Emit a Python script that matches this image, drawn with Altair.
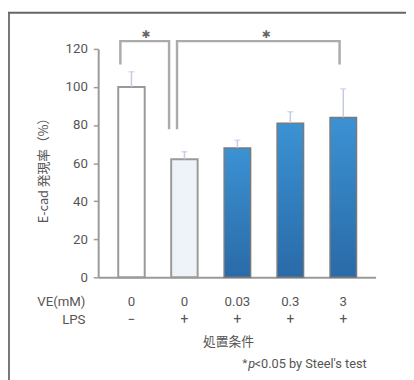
import altair as alt
import pandas as pd

# ---- data ----
groups = [0, 1, 2, 3, 4]
ve_labels = ["0", "0", "0.03", "0.3", "3"]
lps_labels = ["\u2212", "+", "+", "+", "+"]
kinds = ["white", "pale", "blue", "blue", "blue"]
means = [100, 62, 68, 81, 84]
err_top = [108, 66, 72, 87, 99]
y_ticks = [0, 20, 40, 60, 80, 100, 120]

# significance brackets (x in group-index units, y in value units)
br_x = [-0.21, -0.21, 0.71, 0.71, 0.86, 0.86, 3.93, 3.93]
br_y = [111.8, 124.1, 124.1, 77.8, 77.8, 124.1, 124.1, 111.8]
br_id = [1, 1, 1, 1, 2, 2, 2, 2]
br_ord = [0, 1, 2, 3, 0, 1, 2, 3]
star_x = [0.27, 2.54]
star_y = [127.5, 127.5]

df = pd.DataFrame({"g": groups, "ve": ve_labels, "lps": lps_labels,
                   "kind": kinds, "m": means, "e": err_top})
br = pd.DataFrame({"x": br_x, "y": br_y, "id": br_id, "o": br_ord})
st = pd.DataFrame({"x": star_x, "y": star_y, "t": ["\u2731", "\u2731"]})

W, H = 283, 233
xs = alt.Scale(domain=[-0.536, 4.518], nice=False, zero=False)
ys = alt.Scale(domain=[0, 120], nice=False)
XAX = alt.Axis(labels=False, ticks=False, grid=False, title=None)
YAX = alt.Axis(values=y_ticks, labelOverlap=False, grid=False, title=None)


def xq(f):
    return alt.X(f, scale=xs, axis=XAX, title=None)


def yq(f):
    return alt.Y(f, scale=ys, axis=YAX, title=None)


base = alt.Chart(df)

bars_white = base.transform_filter("datum.kind=='white'").mark_bar(
    size=27, fill="white", stroke="#999999", strokeWidth=2).encode(
    x=xq("g:Q"), y=yq("m:Q"))
bars_pale = base.transform_filter("datum.kind=='pale'").mark_bar(
    size=27, fill="#eef3fa", stroke="#999999", strokeWidth=2).encode(
    x=xq("g:Q"), y=yq("m:Q"))
grad = alt.Gradient(gradient="linear", x1=0, y1=0, x2=0, y2=1,
                    stops=[alt.GradientStop(color="#3b92d3", offset=0),
                           alt.GradientStop(color="#2a6aa8", offset=1)])
bars_blue = base.transform_filter("datum.kind=='blue'").mark_bar(
    size=27, color=grad, stroke="#7a7a7a", strokeWidth=1.5).encode(
    x=xq("g:Q"), y=yq("m:Q"))

err = base.mark_rule(color="#c3cbe3", strokeWidth=1.5).encode(
    x=xq("g:Q"), y=yq("m:Q"), y2="e:Q")
cap = base.mark_tick(orient="horizontal", size=6, thickness=1.5,
                     color="#c3cbe3").encode(x=xq("g:Q"), y=yq("e:Q"))

brackets = alt.Chart(br).mark_line(color="#ababab", strokeWidth=2.5,
                                   strokeJoin="miter").encode(
    x=xq("x:Q"), y=yq("y:Q"), detail="id:N", order="o:Q")
stars = alt.Chart(st).mark_text(font="DejaVu Sans", fontSize=11,
                                color="#666666", baseline="middle").encode(
    x=xq("x:Q"), y=yq("y:Q"), text="t:N")

ve_txt = base.mark_text(font="Roboto", fontSize=13.5, color="#555555",
                        baseline="middle").encode(
    x=xq("g:Q"), y=alt.value(258), text="ve:N")
lps_txt = base.mark_text(font="Roboto", fontSize=14, color="#555555",
                         baseline="middle").encode(
    x=xq("g:Q"), y=alt.value(277), text="lps:N")


def label(txt, x, y, align="center", size=13, font="Roboto", angle=0,
          style="normal"):
    kw = dict(font=font, fontSize=size, color="#555555", align=align,
              baseline="middle", text=txt, fontStyle=style)
    if angle:
        kw["angle"] = angle
    return alt.Chart(pd.DataFrame({"a": [0]})).mark_text(**kw).encode(
        x=alt.value(x), y=alt.value(y))


row1 = label("VE(mM)", -13, 258, align="right", size=13.5)
row2 = label("LPS", -13, 277, align="right", size=13.5)
xtitle = label("処置条件", 133, 299, font="Noto Sans CJK JP", size=13)
note1 = label("*", 147, 320, align="left", size=12)
note2 = label("p", 153, 322, align="left", size=13, style="italic")
note3 = label("<0.05 by Steel's test", 159.5, 322, align="left", size=13)
ytitle = label("E-cad 発現率（%）", -55, 121, font="Noto Sans CJK JP",
               size=13, angle=270)

frame_l = alt.Chart(pd.DataFrame({"a": [0]})).mark_rule(
    color="#777777", strokeWidth=2).encode(
    x=alt.value(-91), y=alt.value(-37.5), y2=alt.value(340))
frame_t = alt.Chart(pd.DataFrame({"a": [0]})).mark_rule(
    color="#666666", strokeWidth=2).encode(
    x=alt.value(-92), x2=alt.value(320), y=alt.value(-37))

chart = alt.layer(
    frame_l, frame_t, bars_white, bars_pale, bars_blue, err, cap,
    brackets, stars, ve_txt, lps_txt, row1, row2, xtitle,
    note1, note2, note3, ytitle
).properties(
    width=W, height=H,
    autosize=alt.AutoSizeParams(type="none"),
    padding={"left": 92, "top": 38, "right": 31, "bottom": 101},
    background="white"
).configure_view(stroke=None).configure_axisX(
    domainColor="#9a9a9a", domainWidth=2
).configure_axisY(
    domainColor="#9a9a9a", domainWidth=2, tickColor="#9a9a9a", tickSize=5,
    tickWidth=1.5, labelPadding=6, labelColor="#555555", labelFontSize=13.5,
    labelFont="Roboto"
)

chart.save("out.html", embed_options={"renderer": "svg", "actions": False})
